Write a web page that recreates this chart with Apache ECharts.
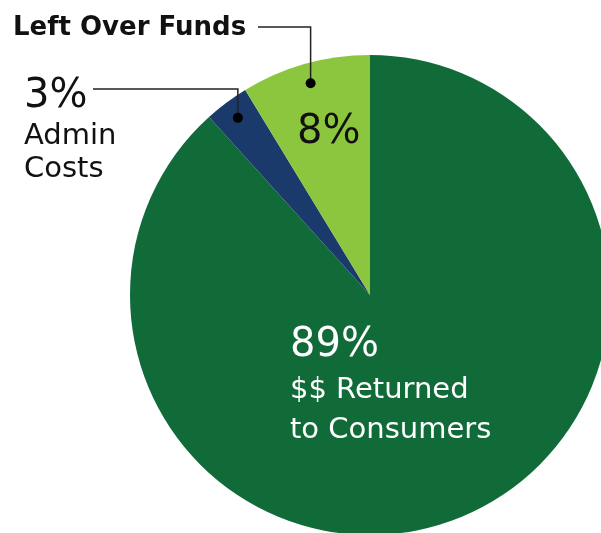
<!DOCTYPE html>
<html>
<head>
<meta charset="utf-8">
<script src="https://cdn.jsdelivr.net/npm/echarts@6/dist/echarts.min.js"></script>
<style>
  html, body { margin: 0; padding: 0; background: #fff; }
  #chart { width: 601px; height: 533px; }
</style>
</head>
<body>
<div id="chart"></div>
<script>
// chart values (slice sizes as drawn, labels as printed)
const categories = ['$$ Returned to Consumers', 'Admin Costs', 'Left Over Funds'];
const values = [88.3, 3.0, 8.7];
const percentLabels = ['89%', '3%', '8%'];
const colors = ['#106b39', '#1a3a6b', '#8cc63f'];

const cx = 370, cy = 295, R = 240;
const font = '"DejaVu Sans", "Open Sans", sans-serif';

const chart = echarts.init(document.getElementById('chart'));

// where each label block sits (top-left corner)
const labelSpots = [
  { x: 290, y: 322 },
  { x: 24, y: 74 },
  { x: 297, y: 109 }
];

const labelText = (p) => {
  const pct = percentLabels[p.dataIndex];
  if (p.dataIndex === 0) return '{big|' + pct + '}\n{small|$$ Returned}\n{small|to Consumers}';
  if (p.dataIndex === 1) return '{bigA|' + pct + '}\n{smallA|Admin}\n{smallA|Costs}';
  return '{big|' + pct + '}';
};

// mid angle of each slice, clockwise from 12 o'clock
const total = values.reduce((a, b) => a + b, 0);
let acc = 0;
const midAngles = values.map(v => {
  const a = (acc + v / 2) / total * 2 * Math.PI;
  acc += v;
  return a;
});
const dotAt = (i, r) => [cx + r * Math.sin(midAngles[i]), cy - r * Math.cos(midAngles[i])];

const dotAdmin = dotAt(1, 221);
const dotLeft = dotAt(2, 220);

chart.setOption({
  animation: false,
  series: [{
    type: 'pie',
    center: [cx, cy],
    radius: R,
    startAngle: 90,
    clockwise: true,
    data: categories.map((c, i) => ({
      name: c, value: values[i], itemStyle: { color: colors[i] },
      label: { color: i === 0 ? '#fff' : '#111' }
    })),
    label: {
      show: true,
      position: 'inside',
      formatter: labelText,
      align: 'left',
      rich: {
        big: { fontFamily: font, fontSize: 40, lineHeight: 48 },
        small: { fontFamily: font, fontSize: 29, lineHeight: 40 },
        bigA: { fontFamily: font, fontSize: 40, lineHeight: 46 },
        smallA: { fontFamily: font, fontSize: 29, lineHeight: 33 }
      }
    },
    labelLine: { show: false },
    labelLayout: (p) => ({
      x: labelSpots[p.dataIndex].x,
      y: labelSpots[p.dataIndex].y,
      align: 'left',
      verticalAlign: 'top'
    })
  }],
  graphic: [
    {
      type: 'text', left: 13, top: 15, z: 100,
      style: { text: 'Left Over Funds', fontSize: 26, fontWeight: 'bold', fontFamily: font, fill: '#111' }
    },
    {
      type: 'polyline', z: 100,
      shape: { points: [[258, 27], [dotLeft[0], 27], dotLeft] },
      style: { stroke: '#222', lineWidth: 1.5, fill: null }
    },
    { type: 'circle', z: 100, shape: { cx: dotLeft[0], cy: dotLeft[1], r: 5 }, style: { fill: '#000' } },
    {
      type: 'polyline', z: 100,
      shape: { points: [[93, 89], [dotAdmin[0], 89], dotAdmin] },
      style: { stroke: '#222', lineWidth: 1.5, fill: null }
    },
    { type: 'circle', z: 100, shape: { cx: dotAdmin[0], cy: dotAdmin[1], r: 5 }, style: { fill: '#000' } }
  ]
});
</script>
</body>
</html>
